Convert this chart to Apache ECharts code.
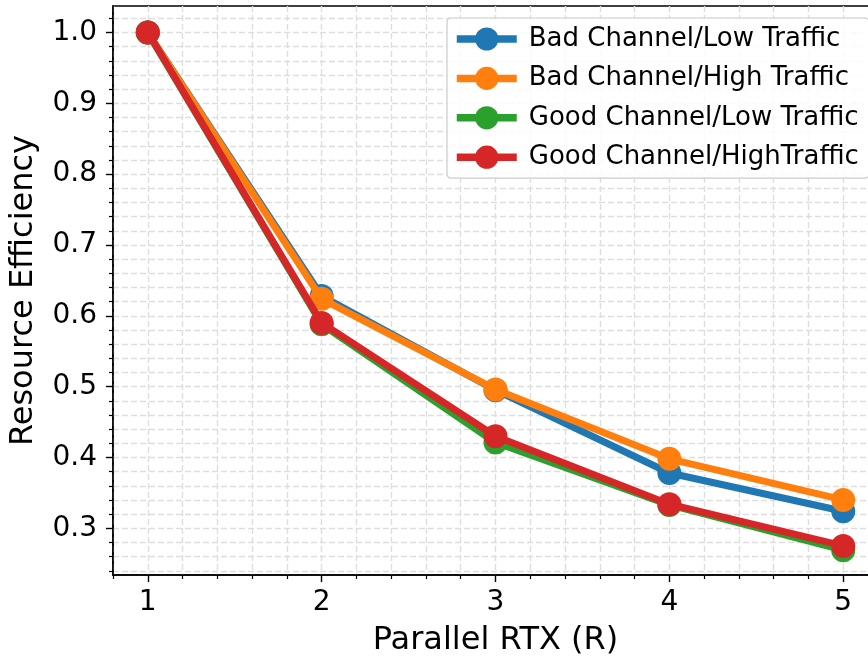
<!DOCTYPE html>
<html>
<head>
<meta charset="utf-8">
<script src="https://cdn.jsdelivr.net/npm/echarts@6/dist/echarts.min.js"></script>
<style>html,body{margin:0;padding:0;background:#fff}#c{width:868px;height:659px}</style>
</head>
<body>
<div id="c"></div>
<script>
const xValues = [1, 2, 3, 4, 5];
const seriesNames = ['Bad Channel/Low Traffic', 'Bad Channel/High Traffic', 'Good Channel/Low Traffic', 'Good Channel/HighTraffic'];
const badLow = [1.0, 0.628, 0.495, 0.378, 0.324];
const badHigh = [1.0, 0.624, 0.496, 0.398, 0.340];
const goodLow = [1.0, 0.588, 0.421, 0.333, 0.269];
const goodHigh = [1.0, 0.590, 0.430, 0.334, 0.275];
const xTicks = [1, 2, 3, 4, 5];
const yTicks = [0.3, 0.4, 0.5, 0.6, 0.7, 0.8, 0.9, 1.0];
const colors = ['#1f77b4', '#ff7f0e', '#2ca02c', '#d62728'];

const X_MIN = 0.8, X_MAX = 5.2, Y_MIN = 0.234, Y_MAX = 1.0375;
// minor tick positions (5 subdivisions between majors)
const xMinor = [];
for (let v = 0.8; v <= 5.2001; v += 0.2) { const r = Math.round(v * 10) / 10; if (!xTicks.includes(r)) xMinor.push(r); }
const yMinor = [];
for (let k = 12; k <= 51; k++) { const r = Math.round(k * 2) / 100; if (r >= Y_MIN && r <= Y_MAX && !yTicks.some(t => Math.abs(t - r) < 1e-9)) yMinor.push(r); }

const FONT = 'DejaVu Sans';
const gridLine = { show: true, lineStyle: { color: '#dedede', width: 1.4, type: [6, 3] } };

const dataSets = [badLow, badHigh, goodLow, goodHigh];
const chart = echarts.init(document.getElementById('c'), null, { renderer: 'canvas' });
chart.setOption({
  animation: false,
  backgroundColor: '#fff',
  grid: { left: 113, right: -10, top: 6, bottom: 84, outerBoundsMode: 'none', containLabel: false, show: true, borderColor: '#000', borderWidth: 1.6, backgroundColor: 'transparent' },
  legend: {
    show: true,
    data: seriesNames,
    orient: 'vertical',
    left: 447, top: 18,
    padding: [8, 10, 8, 6],
    itemWidth: 60, itemHeight: 29, itemGap: 13.4,
    backgroundColor: 'rgba(255,255,255,0.85)',
    borderColor: '#cccccc', borderWidth: 1.2, borderRadius: 4,
    textStyle: { fontFamily: FONT, fontSize: 26, color: '#000', padding: [0, 0, 0, 7] },
    lineStyle: { width: 7.5 }
  },
  xAxis: [{
    type: 'value', min: X_MIN, max: X_MAX, position: 'bottom',
    name: 'Parallel RTX (R)', nameLocation: 'middle', nameGap: 50,
    nameTextStyle: { fontFamily: FONT, fontSize: 32, color: '#000' },
    axisLine: { show: true, onZero: false, lineStyle: { color: '#000', width: 1.6 } },
    axisTick: { show: true, customValues: xTicks, length: 7, lineStyle: { color: '#000', width: 1.4 } },
    axisLabel: { show: true, customValues: xTicks, margin: 14, fontFamily: FONT, fontSize: 28, color: '#000', formatter: v => String(Math.round(v)) },
    splitLine: gridLine
  }, {
    type: 'value', min: X_MIN, max: X_MAX, position: 'bottom',
    axisLine: { show: false, onZero: false },
    axisTick: { show: true, customValues: xMinor, length: 4, lineStyle: { color: '#000', width: 1.2 } },
    axisLabel: { show: false },
    splitLine: gridLine
  }],
  yAxis: [{
    type: 'value', min: Y_MIN, max: Y_MAX, position: 'left',
    name: 'Resource Efficiency', nameLocation: 'middle', nameGap: 73,
    nameTextStyle: { fontFamily: FONT, fontSize: 32, color: '#000' },
    axisLine: { show: true, onZero: false, lineStyle: { color: '#000', width: 1.6 } },
    axisTick: { show: true, customValues: yTicks, length: 7, lineStyle: { color: '#000', width: 1.4 } },
    axisLabel: { show: true, customValues: yTicks, margin: 16, fontFamily: FONT, fontSize: 28, color: '#000', formatter: v => v.toFixed(1) },
    splitLine: gridLine
  }, {
    type: 'value', min: Y_MIN, max: Y_MAX, position: 'left',
    axisLine: { show: false, onZero: false },
    axisTick: { show: true, customValues: yMinor, length: 4, lineStyle: { color: '#000', width: 1.2 } },
    axisLabel: { show: false },
    splitLine: gridLine
  }],
  series: dataSets.map((arr, i) => ({
    name: seriesNames[i],
    type: 'line',
    xAxisIndex: 0, yAxisIndex: 0,
    z: 3 + i,
    data: xValues.map((x, j) => [x, arr[j]]),
    symbol: 'circle', symbolSize: 24,
    color: colors[i],
    itemStyle: { color: colors[i] },
    lineStyle: { color: colors[i], width: 7 },
    emphasis: { disabled: true }
  }))
});
</script>
</body>
</html>
